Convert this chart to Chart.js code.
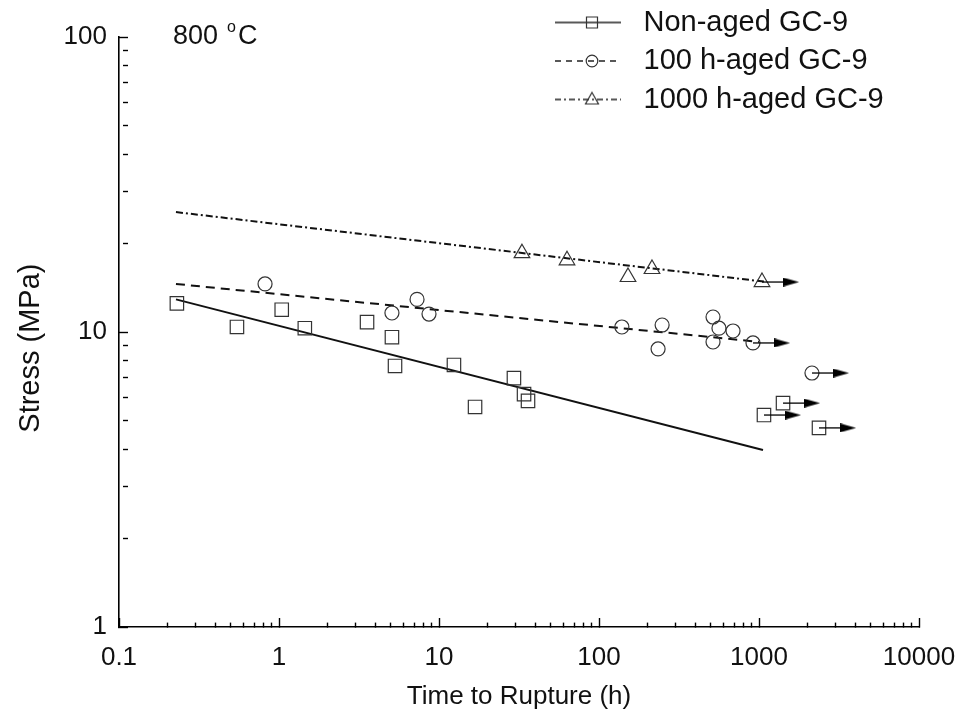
<!DOCTYPE html>
<html>
<head>
<meta charset="utf-8">
<script src="https://cdn.jsdelivr.net/npm/chart.js@4/dist/chart.umd.min.js"></script>
<style>
html,body{margin:0;padding:0;background:#fff;}
#wrap{width:963px;height:722px;position:relative;}
</style>
</head>
<body>
<div id="wrap"><canvas id="c" width="963" height="722"></canvas></div>
<script>
// ---------------- data ----------------
const seriesNames = ['Non-aged GC-9', '100 h-aged GC-9', '1000 h-aged GC-9'];

// Non-aged (ruptured specimens)
const nonAgedTime   = [0.23, 0.546, 1.04, 1.45, 3.55, 5.08, 5.31, 12.4, 16.8, 29.4, 34.0, 36.0];
const nonAgedStress = [12.5, 10.4, 11.9, 10.3, 10.8, 9.6, 7.67, 7.73, 5.57, 6.98, 6.16, 5.84];
// Non-aged (run-outs, not ruptured)
const nonAgedRunTime   = [1074, 1413, 2371];
const nonAgedRunStress = [5.23, 5.74, 4.73];

// 100 h-aged
const aged100Time   = [0.818, 5.08, 7.29, 8.66, 139, 248, 234, 516, 562, 688, 516];
const aged100Stress = [14.55, 11.6, 12.9, 11.5, 10.4, 10.56, 8.76, 11.24, 10.3, 10.08, 9.25];
const aged100RunTime   = [917, 2143];
const aged100RunStress = [9.18, 7.26];

// 1000 h-aged
const aged1000Time   = [33.0, 63.1, 151.8, 214.4];
const aged1000Stress = [18.5, 17.5, 15.36, 16.35];
const aged1000RunTime   = [1044];
const aged1000RunStress = [14.77];

// fitted lines (end points)
const nonAgedFitTime = [0.227, 1059];
const nonAgedFitStress = [12.9, 3.98];
const aged100FitTime = [0.227, 1000];
const aged100FitStress = [14.55, 9.26];
const aged1000FitTime = [0.227, 1100];
const aged1000FitStress = [25.5, 14.8];

// axes
const xMajorTicks = [0.1, 1, 10, 100, 1000, 10000];
const xTickLabels = ['0.1', '1', '10', '100', '1000', '10000'];
const yMajorTicks = [1, 10, 100];
const yTickLabels = ['1', '10', '100'];
const xTitle = 'Time to Rupture (h)';
const yTitle = 'Stress (MPa)';
const tempValue = '800';
const tempSup = 'o';
const tempUnit = 'C';

// ---------------- helpers ----------------
const FONT = '"Liberation Sans", Arial, Helvetica, sans-serif';
const pts = (xs, ys) => xs.map((x, i) => ({x: x, y: ys[i]}));
const isMajorVal = (v, majors) => majors.some(m => Math.abs(Math.log10(v) - Math.log10(m)) < 1e-6);
const withMinors = (majors) => {
  const out = [];
  for (let i = 0; i < majors.length; i++) {
    out.push(majors[i]);
    if (i < majors.length - 1) for (let k = 2; k <= 9; k++) out.push(+(majors[i] * k).toPrecision(6));
  }
  return out;
};

// arrow head image (pointing right, drawn centered on shaft end)
function makeArrowHead() {
  const c = document.createElement('canvas');
  c.width = 16; c.height = 9;
  const g = c.getContext('2d');
  g.fillStyle = '#000';
  g.beginPath(); g.moveTo(0, 0); g.lineTo(16, 4.5); g.lineTo(0, 9); g.closePath(); g.fill();
  return c;
}
const arrowHead = makeArrowHead();
const ARROW_FACTOR = 1.52;

function makeSample(dash, marker) {
  const c = document.createElement('canvas');
  c.width = 74; c.height = 22;
  const g = c.getContext('2d');
  g.strokeStyle = '#222';
  g.lineWidth = 1.6;
  g.setLineDash(dash);
  g.beginPath(); g.moveTo(0, 11); g.lineTo(66, 11); g.stroke();
  g.setLineDash([]);
  g.strokeStyle = '#333';
  g.lineWidth = 1.2;
  g.fillStyle = '#fff';
  const cx = 37, cy = 11;
  g.beginPath();
  if (marker === 'rect') { g.rect(cx - 5.5, cy - 5.5, 11, 11); }
  else if (marker === 'circle') { g.arc(cx, cy, 5.8, 0, Math.PI * 2); }
  else { g.moveTo(cx, cy - 7); g.lineTo(cx + 6.5, cy + 4.5); g.lineTo(cx - 6.5, cy + 4.5); g.closePath(); }
  g.stroke();
  return c;
}
const samples = [makeSample([], 'rect'), makeSample([6, 5], 'circle'), makeSample([6, 3, 2, 3], 'triangle')];

const markerColor = '#333';
function markerSet(label, data, style, radius) {
  return {label: label, data: data, showLine: false, pointStyle: style, pointRadius: radius,
    pointHoverRadius: radius, borderColor: markerColor, pointBorderColor: markerColor,
    backgroundColor: 'rgba(0,0,0,0)', pointBackgroundColor: 'rgba(0,0,0,0)', pointBorderWidth: 1.2, order: 1};
}
function fitSet(data, dash) {
  return {label: '', data: data, showLine: true, borderColor: '#111', borderWidth: 2, borderDash: dash,
    pointRadius: 0, pointHoverRadius: 0, fill: false, order: 2};
}
function arrowSets(times, stresses) {
  return times.map((t, i) => ({label: '', data: [{x: t, y: stresses[i]}, {x: t * ARROW_FACTOR, y: stresses[i]}],
    showLine: true, borderColor: '#000', borderWidth: 1.3, pointRadius: [0, 6], pointHoverRadius: [0, 6],
    pointStyle: ['circle', arrowHead], pointBorderWidth: 0, fill: false, order: 0}));
}

const datasets = [
  markerSet(seriesNames[0], pts(nonAgedTime.concat(nonAgedRunTime), nonAgedStress.concat(nonAgedRunStress)), 'rect', 9.5),
  markerSet(seriesNames[1], pts(aged100Time.concat(aged100RunTime), aged100Stress.concat(aged100RunStress)), 'circle', 7),
  markerSet(seriesNames[2], pts(aged1000Time.concat(aged1000RunTime), aged1000Stress.concat(aged1000RunStress)), 'triangle', 9),
  fitSet(pts(nonAgedFitTime, nonAgedFitStress), []),
  fitSet(pts(aged100FitTime, aged100FitStress), [9, 6]),
  fitSet(pts(aged1000FitTime, aged1000FitStress), [7, 3, 2, 3]),
  ...arrowSets(nonAgedRunTime, nonAgedRunStress),
  ...arrowSets(aged100RunTime, aged100RunStress),
  ...arrowSets(aged1000RunTime, aged1000RunStress)
];

const xAll = withMinors(xMajorTicks);
const yAll = withMinors(yMajorTicks);

function axis(min, max, majors, labels, all, titleText, isX) {
  return {
    type: 'logarithmic', min: min, max: max, position: isX ? 'bottom' : 'left',
    afterBuildTicks: (scale) => { scale.ticks = all.map(v => ({value: v, major: isMajorVal(v, majors)})); },
    afterFit: (scale) => {
      if (isX) { scale.height = 95; scale.paddingLeft = 0; scale.paddingRight = 0; }
      else { scale.width = 119; scale.paddingTop = 0; scale.paddingBottom = 0; }
    },
    border: {display: true, color: '#000', width: 1.6},
    grid: {display: true, drawOnChartArea: false, drawTicks: true, tickLength: -9, tickColor: '#000', tickWidth: 1.4,
      tickBorderDash: (ctx) => (ctx.tick && isMajorVal(ctx.tick.value, majors)) ? [] : [5, 30]},
    ticks: {autoSkip: false, maxRotation: 0, minRotation: 0, color: '#111',
      font: {family: FONT, size: 26}, padding: isX ? 24 : 21,
      callback: (v) => { const k = majors.findIndex(m => Math.abs(Math.log10(v) - Math.log10(m)) < 1e-6); return k >= 0 ? labels[k] : ''; }},
    title: {display: true, text: isX ? titleText : titleText + '    ', color: '#111', font: {family: FONT, size: isX ? 26 : 29},
      padding: isX ? {top: 0, bottom: 10} : {top: 14, bottom: 0}}
  };
}

const legendPlacer = {
  id: 'legendPlacer',
  afterLayout(chart) {
    const lg = chart.legend;
    if (!lg) return;
    lg.left = 545.5; lg.top = -1.5; lg.right = 962; lg.bottom = 200;
    lg.width = lg.right - lg.left; lg.height = lg.bottom - lg.top;
  }
};

const tempLabel = {
  id: 'tempLabel',
  afterDraw(chart) {
    const g = chart.ctx;
    g.save();
    g.fillStyle = '#111';
    g.textBaseline = 'alphabetic';
    g.textAlign = 'left';
    g.font = '27px ' + FONT;
    g.fillText(tempValue, 173, 44);
    const w = g.measureText(tempValue).width;
    g.font = '16px ' + FONT;
    g.fillText(tempSup, 173 + w + 9, 32);
    g.font = '27px ' + FONT;
    g.fillText(tempUnit, 173 + w + 20, 44);
    g.restore();
  }
};

new Chart(document.getElementById('c'), {
  type: 'scatter',
  data: {datasets: datasets},
  options: {
    responsive: false, animation: false, devicePixelRatio: 1,
    layout: {padding: {left: 0, top: 37, right: 44, bottom: 0}},
    scales: {
      x: axis(0.1, 10000, xMajorTicks, xTickLabels, xAll, xTitle, true),
      y: axis(1, 100, yMajorTicks, yTickLabels, yAll, yTitle, false)
    },
    plugins: {
      tooltip: {enabled: false},
      legend: {
        display: true, position: 'chartArea', align: 'start', fullSize: false,
        labels: {
          usePointStyle: true, pointStyleWidth: 74, padding: 9.5, color: '#111',
          font: {family: FONT, size: 29},
          generateLabels: () => seriesNames.map((n, i) => ({text: n, pointStyle: samples[i], datasetIndex: i,
            hidden: false, fillStyle: 'rgba(0,0,0,0)', strokeStyle: 'rgba(0,0,0,0)', lineWidth: 0, fontColor: '#111'}))
        }
      }
    }
  },
  plugins: [legendPlacer, tempLabel]
});
</script>
</body>
</html>
